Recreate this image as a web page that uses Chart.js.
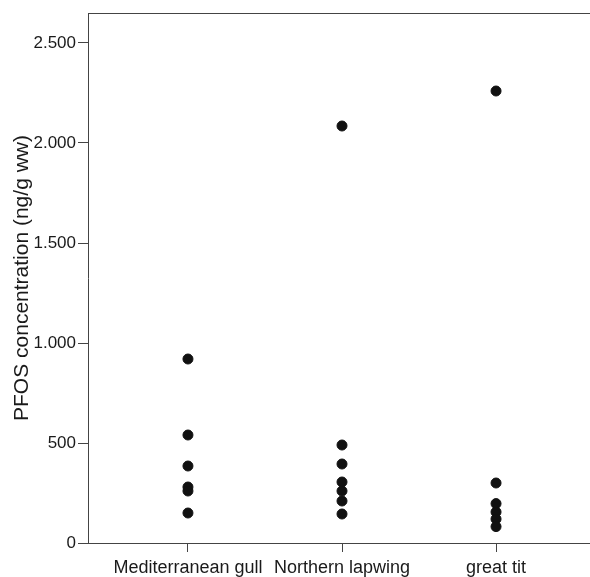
<!DOCTYPE html>
<html>
<head>
<meta charset="utf-8">
<script src="https://cdn.jsdelivr.net/npm/chart.js@4/dist/chart.umd.min.js"></script>
<style>
  html,body{margin:0;padding:0;background:#fff;}
  #wrap{width:590px;height:577px;overflow:hidden;}
</style>
</head>
<body>
<div id="wrap"><canvas id="c" width="596" height="577"></canvas></div>
<script>
// species on x axis, PFOS values (ng/g ww)
const species = ['Mediterranean gull', 'Northern lapwing', 'great tit'];
const gullValues = [920, 540, 385, 280, 260, 150];
const lapwingValues = [2085, 490, 395, 305, 260, 210, 145];
const titValues = [2260, 300, 197, 155, 120, 82];
const yTicks = [0, 500, 1000, 1500, 2000, 2500];

const fmt = v => String(v).replace(/\B(?=(\d{3})+(?!\d))/g, '.');

const allValues = [gullValues, lapwingValues, titValues];
const points = [];
allValues.forEach((arr, i) => arr.forEach(v => points.push({x: i + 1, y: v})));

// top frame line
const topLine = {
  id: 'topLine',
  afterDraw(chart){
    const {ctx, chartArea:a} = chart;
    ctx.save();
    ctx.strokeStyle = '#444'; ctx.lineWidth = 1;
    ctx.beginPath(); ctx.moveTo(a.left, a.top + 0.5); ctx.lineTo(chart.width, a.top + 0.5); ctx.stroke();
    ctx.restore();
  }
};

const textCol = '#1a1a1a';
const fam = 'Liberation Sans, Arial, sans-serif';

new Chart(document.getElementById('c'), {
  type: 'scatter',
  data: { datasets: [{ data: points, backgroundColor: '#111', borderColor: '#111', pointRadius: 5, pointHoverRadius: 5 }] },
  plugins: [topLine],
  options: {
    responsive: false,
    animation: false,
    layout: { padding: { top: 13, right: 0, left: 0, bottom: 0 } },
    plugins: { legend: { display: false }, tooltip: { enabled: false } },
    scales: {
      x: {
        type: 'linear', min: 0.351, max: 3.61,
        afterBuildTicks: s => { s.ticks = species.map((_, i) => ({value: i + 1})); },
        afterFit: s => { s.height = 34; },
        ticks: { callback: v => species[v - 1] || '', color: textCol, font: { family: fam, size: 18 }, padding: 5, maxRotation: 0, autoSkip: false },
        grid: { drawOnChartArea: false, drawTicks: true, tickLength: 9, color: '#444' },
        border: { color: '#444', width: 1 }
      },
      y: {
        min: 0, max: 2650,
        afterBuildTicks: s => { s.ticks = yTicks.map(v => ({value: v})); },
        afterFit: s => { s.width = 88; },
        ticks: { callback: v => fmt(v), color: textCol, font: { family: fam, size: 17 }, padding: 2 },
        grid: { drawOnChartArea: false, drawTicks: true, tickLength: 10, color: '#444' },
        border: { color: '#444', width: 1 },
        title: { display: true, text: 'PFOS concentration (ng/g ww)', color: textCol, font: { family: fam, size: 21 }, padding: { top: 10, bottom: 0 } }
      }
    }
  }
});
</script>
</body>
</html>
